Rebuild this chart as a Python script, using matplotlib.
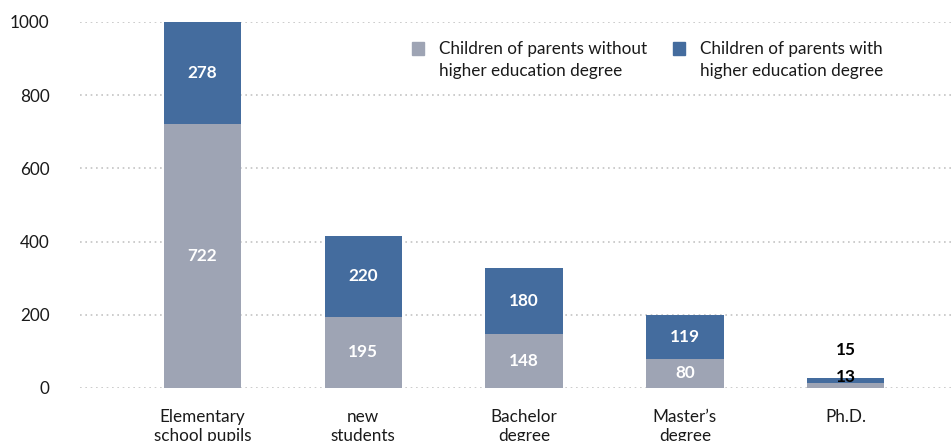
import matplotlib.pyplot as plt
from matplotlib.patches import Rectangle

categories = ["Elementary\nschool pupils", "new\nstudents", "Bachelor\ndegree",
              "Master’s\ndegree", "Ph.D."]
without_degree = [722, 195, 148, 80, 13]
with_degree = [278, 220, 180, 119, 15]
yticks = [0, 200, 400, 600, 800, 1000]
legend_labels = ["Children of parents without\nhigher education degree",
                 "Children of parents with\nhigher education degree"]

GRAY = "#9ea4b4"
BLUE = "#446c9e"
FS = 12.3

plt.rcParams["font.family"] = ["Lato", "DejaVu Sans"]

fig = plt.figure(figsize=(9.52, 4.41), dpi=100)
ax = fig.add_axes([80 / 952, 53 / 441, 872 / 952, 366 / 441])

x = list(range(len(categories)))
width = 0.48
ax.bar(x, without_degree, width, color=GRAY, zorder=2)
ax.bar(x, with_degree, width, bottom=without_degree, color=BLUE, zorder=2)

# value labels: white inside the bar, black above it when the bar is too thin
for i in x:
    lo, hi = without_degree[i], with_degree[i]
    if lo + hi > 60:
        ax.text(i, lo / 2, str(lo), ha="center", va="center", color="white",
                fontsize=FS, fontweight="bold", zorder=3)
        ax.text(i, lo + hi / 2, str(hi), ha="center", va="center", color="white",
                fontsize=FS, fontweight="bold", zorder=3)
    else:
        ax.text(i, lo + hi + 3, str(lo), ha="center", va="center", color="black",
                fontsize=FS, fontweight="bold", zorder=3)
        ax.text(i, lo + hi + 77, str(hi), ha="center", va="center", color="black",
                fontsize=FS, fontweight="bold", zorder=3)

ax.set_xlim(-0.76, 4.66)
ax.set_ylim(0, 1000)
ax.set_yticks(yticks)
ax.set_yticklabels([str(v) for v in yticks], fontsize=FS, color="#1a1a1a")
ax.set_xticks(x)
ax.set_xticklabels(categories, fontsize=FS, color="#1a1a1a", linespacing=1.25)
ax.tick_params(axis="both", length=0)
ax.tick_params(axis="x", pad=15)
ax.tick_params(axis="y", pad=22)
for s in ax.spines.values():
    s.set_visible(False)
ax.yaxis.grid(True, linestyle=(0, (1, 2.2)), color="#c4c4c4", linewidth=1.2, zorder=0)
ax.set_axisbelow(True)

# legend drawn by hand: square lines up with the first text line
for (sx, tx), col, lab in zip([(412, 439), (673, 700)], [GRAY, BLUE], legend_labels):
    fig.add_artist(Rectangle((sx / 952, 1 - 55 / 441), 12 / 952, 13 / 441,
                             transform=fig.transFigure, color=col))
    fig.text(tx / 952, 1 - 60 / 441, lab, fontsize=FS, color="#1a1a1a",
             ha="left", va="center", linespacing=1.4)

fig.savefig("out.png", dpi=100)
